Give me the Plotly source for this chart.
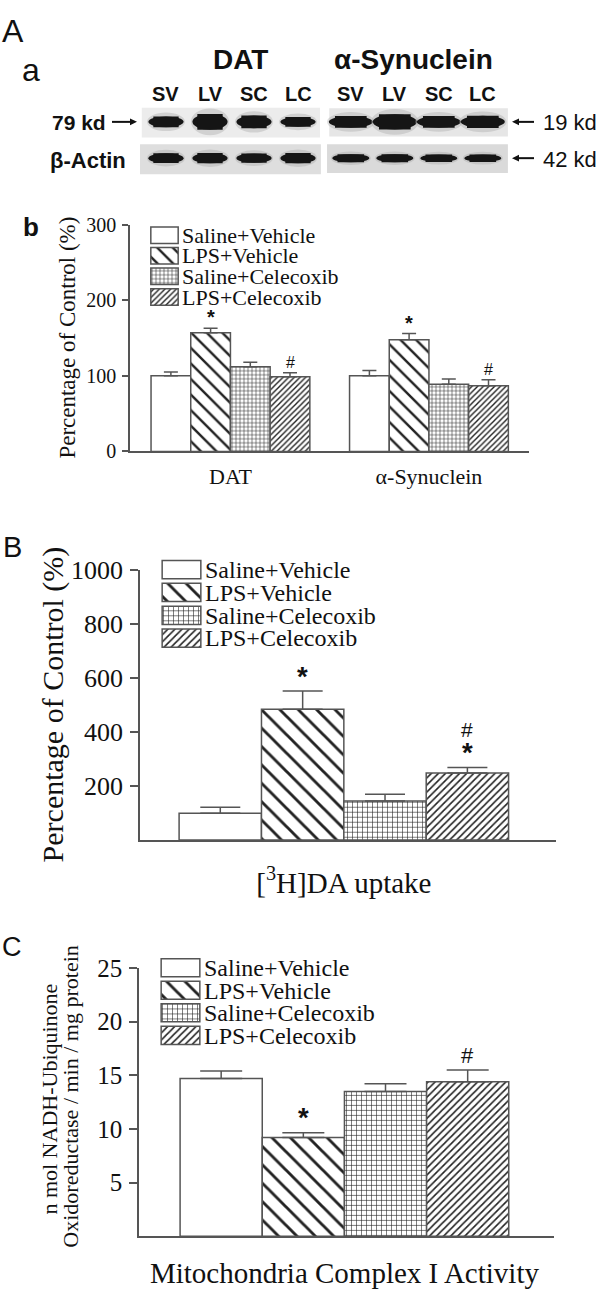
import plotly.graph_objects as go

W, H = 600, 1294
SERIF = "Liberation Serif, Times New Roman, serif"
SANS = "Liberation Sans, Arial, sans-serif"
INK = "#111111"
EDGE = "#555555"

# ---------------- data ----------------
groups = ["Saline+Vehicle", "LPS+Vehicle", "Saline+Celecoxib", "LPS+Celecoxib"]
lane_labels = ["SV", "LV", "SC", "LC"]

# western blot band strengths (relative thickness)
dat_band = [1.0, 1.45, 1.15, 0.9]
dat_actin = [1.0, 1.05, 0.95, 1.05]
syn_band = [1.0, 1.3, 1.0, 1.05]
syn_actin = [1.0, 1.0, 0.95, 0.95]

# panel b
b_categories = ["DAT", "α-Synuclein"]
b_saline_vehicle = [100, 100]
b_lps_vehicle = [157, 148]
b_saline_celecoxib = [112, 89]
b_lps_celecoxib = [99, 87]
b_err_saline_vehicle = [5, 7]
b_err_lps_vehicle = [6, 8]
b_err_saline_celecoxib = [6, 7]
b_err_lps_celecoxib = [5, 8]
b_sig = [["", ""], ["*", "*"], ["", ""], ["#", "#"]]
b_ticks = [0, 100, 200, 300]

# panel B
B_category = ["[<sup>3</sup>H]DA uptake"]
B_means = [99, 484, 144, 248]
B_errs = [22, 67, 25, 20]
B_sig = ["", "*", "", "*"]
B_sig_top = ["", "", "", "#"]
B_ticks = [200, 400, 600, 800, 1000]

# panel C
C_category = ["Mitochondria Complex I Activity"]
C_means = [14.7, 9.2, 13.5, 14.4]
C_errs = [0.7, 0.45, 0.7, 1.1]
C_sig = ["", "*", "", "#"]
C_ticks = [5, 10, 15, 20, 25]


def px(x):
    return x / W


def py(y):
    return 1 - y / H


fig = go.Figure()
annotations = []
shapes = []

# ---------------- blot panel (axis x / y) ----------------
BAND = "#151515"
syn_offset = 4.2
dat_x = [i for i in range(len(lane_labels))]
syn_x = [syn_offset + i for i in range(len(lane_labels))]


def rect(x0, x1, y0, y1, color, kind="rect", opacity=1.0):
    shapes.append(dict(type=kind, xref="x", yref="y", x0=x0, x1=x1, y0=y0, y1=y1,
                       fillcolor=color, line=dict(width=0), opacity=opacity, layer="above"))


# blot backgrounds
rect(-0.55, 3.5, 0.57, 1.39, "#ececec")
rect(-0.59, 3.52, -0.44, 0.38, "#dedede")
rect(3.71, 7.77, 0.595, 1.378, "#e6e6e6")
rect(3.66, 7.77, -0.41, 0.38, "#dadada")


def bands(xs, strengths, row, hw, base):
    for c, s in zip(xs, strengths):
        th = base * s
        rect(c - hw * 1.08, c + hw * 1.08, row - th * 0.85, row + th * 0.85, "#a0a0a0", "circle", 0.35)
        rect(c - hw, c + hw, row - th / 2, row + th / 2, BAND, "circle")
        rect(c - hw * 0.72, c + hw * 0.72, row - th / 2, row + th / 2, BAND, "rect")


bands(dat_x, dat_band, 1, 0.40, 0.30)
bands(dat_x, dat_actin, 0, 0.40, 0.27)
bands(syn_x, syn_band, 1, 0.50, 0.32)
bands(syn_x, syn_actin, 0, 0.42, 0.22)

# invisible trace so the blot axes exist
fig.add_trace(go.Scatter(x=dat_x + syn_x, y=[0.5] * 8, mode="markers",
                         marker=dict(opacity=0), hoverinfo="skip", showlegend=False,
                         xaxis="x", yaxis="y"))

lane_row = 1.76
for xs in (dat_x, syn_x):
    for c, lab in zip(xs, lane_labels):
        annotations.append(dict(x=c, y=lane_row, xref="x", yref="y", text=lab, showarrow=False,
                                xanchor="center", yanchor="middle",
                                font=dict(family=SANS, size=20, color=INK, weight="bold")))


def ptext(x, y, text, size, bold=False, xanchor="center", family=SANS, angle=0):
    annotations.append(dict(x=px(x), y=py(y), xref="paper", yref="paper", text=text,
                            showarrow=False, xanchor=xanchor, yanchor="middle", textangle=angle,
                            font=dict(family=family, size=size, color=INK,
                                      weight="bold" if bold else "normal")))


ptext(13, 17, "A", 32)
ptext(31, 57, "a", 32)
ptext(240, 46, "DAT", 28, bold=True)
ptext(413, 46, "α-Synuclein", 28, bold=True)
ptext(108, 111, "79 kd", 21, bold=True, xanchor="right")
ptext(128, 149, "β-Actin", 22, bold=True, xanchor="right")
ptext(541, 111, "19 kd", 22, xanchor="left")
ptext(541, 148, "42 kd", 22, xanchor="left")


def arrow(x_tail, x_head, y):
    d = 1 if x_head > x_tail else -1
    xb = x_head - d * 7
    shapes.append(dict(type="line", xref="paper", yref="paper", x0=px(x_tail), x1=px(xb),
                       y0=py(y), y1=py(y), line=dict(color=INK, width=2)))
    shapes.append(dict(type="path", xref="paper", yref="paper",
                       path=f"M {px(x_head)},{py(y)} L {px(xb)},{py(y - 3.5)} L {px(xb)},{py(y + 3.5)} Z",
                       fillcolor=INK, line=dict(width=0)))


arrow(112, 137, 110)
arrow(534, 512, 110)
arrow(534, 512, 147)

# panel letters
ptext(31, 217, "b", 26, bold=True)
ptext(12, 543, "B", 29)
ptext(12, 951, "C", 27)

# ---------------- bar panels ----------------
def pattern(shape, size=8, solidity=0.3):
    return dict(shape=shape, size=size, solidity=solidity, fgcolor="#222222",
                bgcolor="white", fillmode="replace")


b_patterns = [pattern(""), pattern("\\", 11, 0.22), pattern("+", 4, 0.25), pattern("/", 4, 0.35)]
BC_patterns = [pattern(""), pattern("\\", 13, 0.22), pattern("+", 5, 0.22), pattern("/", 5, 0.32)]


def bar_panel(n, cats, means, errs, w, pats, cap):
    for gi, (name, m, e, pat) in enumerate(zip(groups, means, errs, pats)):
        xs = [c + (gi - 1.5) * w for c in range(len(cats))]
        fig.add_trace(go.Bar(
            x=xs, y=m, width=w, name=name, showlegend=False,
            marker=dict(color="white", line=dict(color=EDGE, width=1.5), pattern=pat),
            error_y=dict(type="data", array=e, arrayminus=[0] * len(e), symmetric=False,
                         color=EDGE, thickness=1.5, width=cap),
            xaxis=f"x{n}", yaxis=f"y{n}"))


def legend_panel(n, pats):
    for gi, (name, pat) in enumerate(zip(groups, pats)):
        fig.add_trace(go.Bar(
            y=[gi], x=[1], base=0, width=0.8, orientation="h", showlegend=False,
            marker=dict(color="white", line=dict(color=EDGE, width=1.5), pattern=pat),
            hoverinfo="skip", xaxis=f"x{n}", yaxis=f"y{n}"))


def sig_marks(n, cats, means, errs, w, sigs, size, shift):
    for gi in range(len(groups)):
        for c in range(len(cats)):
            s = sigs[gi][c]
            if not s:
                continue
            star = s == "*"
            annotations.append(dict(x=c + (gi - 1.5) * w, y=means[gi][c] + errs[gi][c],
                                    xref=f"x{n}", yref=f"y{n}", text=s, showarrow=False,
                                    xanchor="center", yanchor="bottom",
                                    yshift=shift - (0.12 * size if star else 0),
                                    font=dict(family=SANS, size=size * (1.25 if star else 1),
                                              color=INK, weight="bold" if star else "normal")))


# panel b
b_means = [b_saline_vehicle, b_lps_vehicle, b_saline_celecoxib, b_lps_celecoxib]
b_errs = [b_err_saline_vehicle, b_err_lps_vehicle, b_err_saline_celecoxib, b_err_lps_celecoxib]
bar_panel(2, b_categories, b_means, b_errs, 0.2, b_patterns, 7)
legend_panel(3, b_patterns)
sig_marks(2, b_categories, b_means, b_errs, 0.2, b_sig, 16, 0)

# panel B
B_means_g = [[v] for v in B_means]
B_errs_g = [[v] for v in B_errs]
bar_panel(4, B_category, B_means_g, B_errs_g, 0.198, BC_patterns, 20)
legend_panel(5, BC_patterns)
sig_marks(4, B_category, B_means_g, B_errs_g, 0.198, [[s] for s in B_sig], 22, 0)
sig_marks(4, B_category, B_means_g, B_errs_g, 0.198, [[s] for s in B_sig_top], 21, 25)

# panel C
C_means_g = [[v] for v in C_means]
C_errs_g = [[v] for v in C_errs]
bar_panel(6, C_category, C_means_g, C_errs_g, 0.198, BC_patterns, 21)
legend_panel(7, BC_patterns)
sig_marks(6, C_category, C_means_g, C_errs_g, 0.198, [[s] for s in C_sig], 22, 0)

# y titles
ptext(68, 330, "Percentage of Control (%)", 23, family=SERIF, angle=-90)
ptext(53, 704, "Percentage of Control (%)", 30, family=SERIF, angle=-90)
ptext(50, 1107, "n mol NADH-Ubiquinone", 22, family=SERIF, angle=-90)
ptext(71, 1104, "Oxidoreductase / min / mg protein", 22, family=SERIF, angle=-90)


# ---------------- layout ----------------
def bar_axes(n, xdom, ydom, xr, yr, ticks, cats, tsize, xsize, ticklen, standoff):
    ncat = len(cats)
    return {
        f"xaxis{n}": dict(domain=[px(xdom[0]), px(xdom[1])], range=xr, anchor=f"y{n}",
                          showline=True, linecolor=EDGE, linewidth=1.5, ticks="",
                          tickvals=list(range(ncat)), ticktext=cats, showgrid=False,
                          zeroline=False, fixedrange=True, ticklabelstandoff=standoff,
                          tickfont=dict(family=SERIF, size=xsize, color=INK)),
        f"yaxis{n}": dict(domain=[py(ydom[1]), py(ydom[0])], range=yr, anchor=f"x{n}",
                          showline=True, linecolor=EDGE, linewidth=1.5, ticks="outside",
                          ticklen=ticklen, tickwidth=1.5, tickcolor=EDGE, tickvals=ticks,
                          showgrid=False, zeroline=False, fixedrange=True,
                          ticklabelstandoff=2,
                          tickfont=dict(family=SERIF, size=tsize, color=INK)),
    }


def legend_axes(n, xdom, ydom, size):
    return {
        f"xaxis{n}": dict(domain=[px(xdom[0]), px(xdom[1])], range=[-0.03, 1.03],
                          anchor=f"y{n}", visible=False, fixedrange=True),
        f"yaxis{n}": dict(domain=[py(ydom[1]), py(ydom[0])], range=[3.5, -0.5],
                          anchor=f"x{n}", side="right", showline=False, ticks="",
                          showgrid=False, zeroline=False, tickvals=[0, 1, 2, 3],
                          ticktext=groups, ticklabelstandoff=2, fixedrange=True,
                          tickfont=dict(family=SERIF, size=size, color=INK)),
    }


layout = dict(
    width=W, height=H, margin=dict(l=0, r=0, t=0, b=0),
    paper_bgcolor="white", plot_bgcolor="rgba(0,0,0,0)",
    barmode="overlay", showlegend=False,
    xaxis=dict(domain=[px(130), px(520)], range=[-0.818, 8.045], visible=False, fixedrange=True),
    yaxis=dict(domain=[py(170), py(70)], range=[-0.621, 2.08], visible=False, fixedrange=True),
    annotations=annotations, shapes=shapes,
)
layout.update(bar_axes(2, (130, 529), (215, 446), [-0.506, 1.504], [0, 300], b_ticks,
                       b_categories, 20, 22, 6, 4))
layout.update(legend_axes(3, (150, 179), (215, 299), 22))
layout.update(bar_axes(4, (140, 556), (566.7, 842.3), [-0.49, 0.51], [0, 1000], B_ticks,
                       B_category, 26, 29, 8, 16))
layout.update(legend_axes(5, (161, 202), (555, 648), 24))
layout.update(bar_axes(6, (139, 554), (972.7, 1246.4), [-0.495, 0.505], [0, 25], C_ticks,
                       C_category, 25, 29, 8, 10))
layout.update(legend_axes(7, (160, 201), (961, 1053), 24))

fig.update_layout(**layout)
fig.write_html("out.html", config={"displayModeBar": False},
               post_script="document.body.style.margin='0';document.body.style.padding='0';")
